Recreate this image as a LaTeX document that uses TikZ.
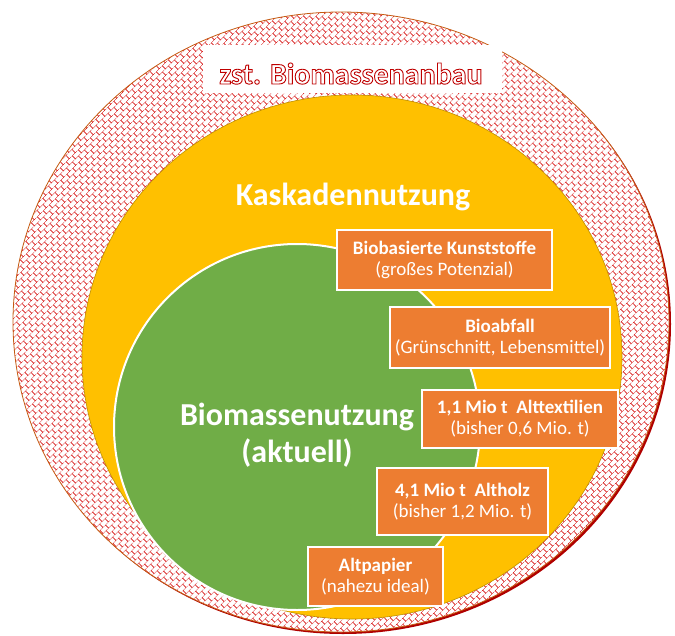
\documentclass[tikz,border=0pt]{standalone}
\usepackage{fontspec}
\setmainfont{Carlito}
\usetikzlibrary{patterns.meta}
\definecolor{hatchred}{HTML}{D81C1C}
\definecolor{titlered}{HTML}{C00000}
\definecolor{ringedge}{HTML}{C55A11}
\definecolor{shadowred}{HTML}{B00000}
\definecolor{cascyellow}{HTML}{FFC000}
\definecolor{cascedge}{HTML}{BF9000}
\definecolor{usegreen}{HTML}{70AD47}
\definecolor{boxorange}{HTML}{ED7D31}
\pgfdeclarepattern{
  name=brickdiag,
  type=uncolored,
  bottom left={\pgfpoint{0pt}{0pt}},
  top right={\pgfpoint{8pt}{10pt}},
  tile size={\pgfpoint{8pt}{10pt}},
  tile transformation={\pgftransformrotate{45}},
  code={
    \pgfsetlinewidth{0.6pt}
    \pgfpathmoveto{\pgfpoint{0pt}{1pt}}\pgfpathlineto{\pgfpoint{8pt}{1pt}}
    \pgfpathmoveto{\pgfpoint{0pt}{6pt}}\pgfpathlineto{\pgfpoint{8pt}{6pt}}
    \pgfpathmoveto{\pgfpoint{1pt}{1pt}}\pgfpathlineto{\pgfpoint{1pt}{6pt}}
    \pgfpathmoveto{\pgfpoint{5pt}{6pt}}\pgfpathlineto{\pgfpoint{5pt}{10pt}}
    \pgfpathmoveto{\pgfpoint{5pt}{0pt}}\pgfpathlineto{\pgfpoint{5pt}{1pt}}
    \pgfusepath{stroke}
  }
}
% white letters with a red stroke (fill + stroke text mode)
\newcommand{\outlined}[1]{\special{pdf:literal direct 2 Tr 0.75 0 0 RG 0.9 w}#1\special{pdf:literal direct 0 Tr}}
\tikzset{
  every picture/.style={x=1pt, y=-1pt},
  infobox/.style={draw=white, line width=1.5pt, fill=boxorange, text=white, align=center, inner sep=0pt, font=\fontsize{19}{21}\selectfont},
  bigtext/.style={text=white, align=center, font=\bfseries\fontsize{32}{37}\selectfont},
  titletext/.style={anchor=base, text=white, font=\bfseries\fontsize{30}{34}\selectfont}
}

\begin{document}
\begin{tikzpicture}
    \useasboundingbox (0,0) rectangle (675,635);

    % rings
    \fill[shadowred] (343,324) ellipse [x radius=328pt, y radius=310pt];
    \draw[ringedge, line width=0.8pt, preaction={fill=white}, pattern=brickdiag, pattern color=hatchred] (341,322) ellipse [x radius=328pt, y radius=310pt];
    \draw[cascedge, line width=0.6pt, fill=cascyellow] (352,357) ellipse [x radius=270pt, y radius=262pt];
    \draw[white, line width=2pt, fill=usegreen] (297,427) circle [radius=183pt];

    % title
    \fill[white] (203,45) rectangle (502,93);
    \node[titletext] (title) at (351,84) {\outlined{zst. Biomassenanbau}};

    \node[bigtext, anchor=base] (kaskade) at (353,205) {Kaskadennutzung};
    \node[bigtext] (nutzung) at (297,435) {Biomassenutzung\\(aktuell)};

    % boxes
    \node[infobox, minimum width=215pt, minimum height=60pt] (kunststoffe) at (444.5,260) {\textbf{Biobasierte Kunststoffe}\\(großes Potenzial)};
    \node[infobox, minimum width=220pt, minimum height=61pt] (bioabfall) at (500,337.5) {\textbf{Bioabfall}\\(Grünschnitt, Lebensmittel)};
    \node[infobox, minimum width=196pt, minimum height=58pt] (textil) at (520,419) {\textbf{1,1 Mio t~~Alttextilien}\\(bisher 0,6 Mio. t)};
    \node[infobox, minimum width=171pt, minimum height=67pt] (holz) at (462.5,501.5) {\textbf{4,1 Mio t~~Altholz}\\(bisher 1,2 Mio. t)};
    \node[infobox, minimum width=135pt, minimum height=59pt] (papier) at (375.5,576.5) {\textbf{Altpapier}\\(nahezu ideal)};
\end{tikzpicture}
\end{document}
